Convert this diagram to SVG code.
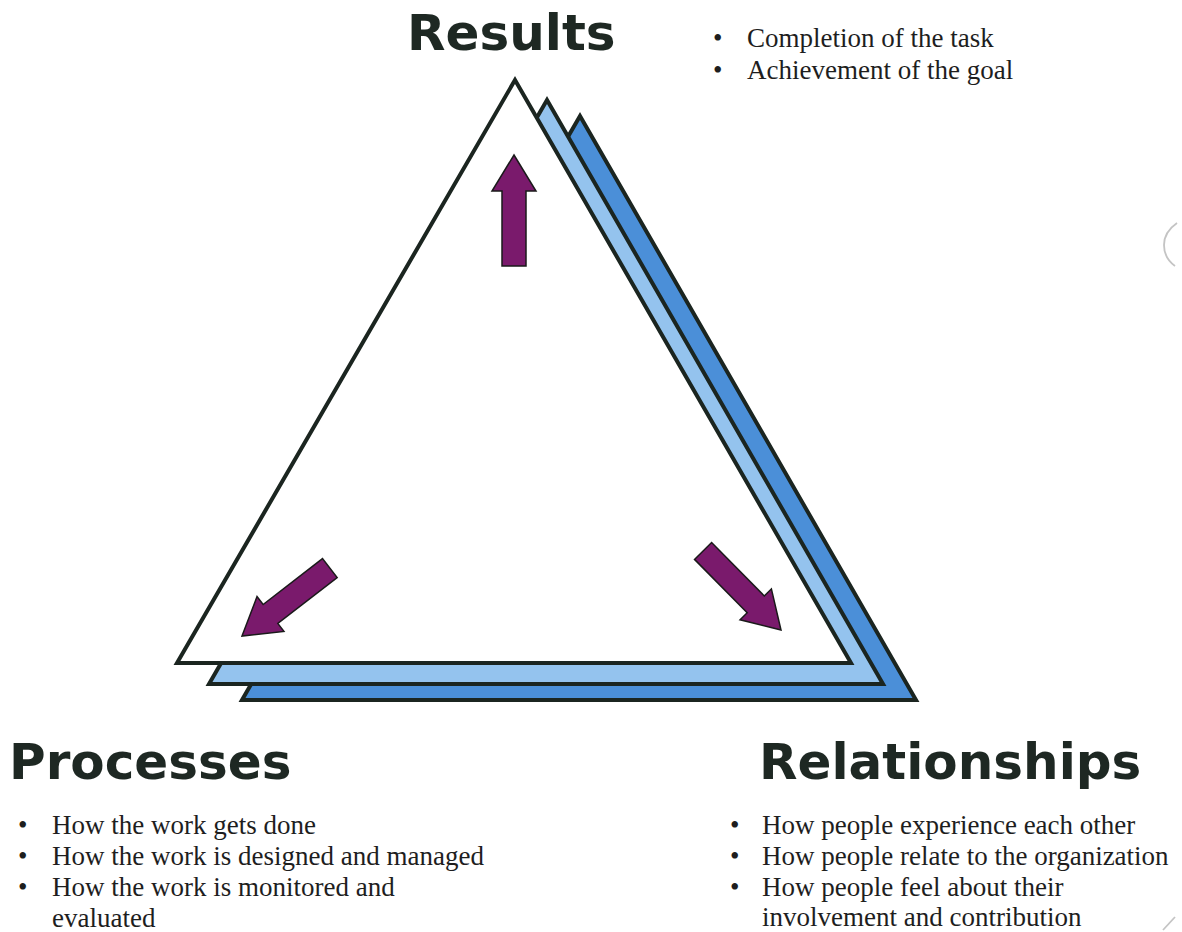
<svg xmlns="http://www.w3.org/2000/svg" width="1182" height="932" viewBox="0 0 1182 932">
<defs>
<style>
.tri{stroke:#1b2520;stroke-width:4;stroke-linejoin:miter}
.head{font-family:"DejaVu Sans",Verdana,sans-serif;font-weight:bold;font-size:50px;fill:#1e2823}
.bul{font-family:"Liberation Serif","Times New Roman",serif;font-size:27px;fill:#1e1e1e}
.arrow{fill:#7a1a6c;stroke:#1a1a1a;stroke-width:1.5;stroke-linejoin:miter}
</style>
<path id="arr" d="M0,0 L22,36 L12,36 L12,111 L-12,111 L-12,36 L-22,36 Z"/>
</defs>
<rect width="1182" height="932" fill="#ffffff"/>
<g id="triangles">
<polygon class="tri" points="580,116 916,700 242,700" fill="#4b8fd8"/>
<polygon class="tri" points="547,100 883,684 209,684" fill="#94c3ee"/>
<polygon class="tri" points="515,80 851,663 177,663" fill="#ffffff"/>
</g>
<g id="connectors">
<use href="#arr" class="arrow" transform="translate(514,155)"/>
<use href="#arr" class="arrow" transform="translate(242,636) rotate(-127.7)"/>
<use href="#arr" class="arrow" transform="translate(781,630) rotate(135.4)"/>
</g>
<g id="results">
<text class="head" x="407" y="50">Results</text>
<text class="bul" x="713" y="47">•</text>
<text class="bul" x="747" y="47">Completion of the task</text>
<text class="bul" x="713" y="79">•</text>
<text class="bul" x="747" y="79">Achievement of the goal</text>
</g>
<g id="processes">
<text class="head" x="9" y="779">Processes</text>
<text class="bul" x="18" y="834">•</text>
<text class="bul" x="52" y="834">How the work gets done</text>
<text class="bul" x="18" y="865">•</text>
<text class="bul" x="52" y="865">How the work is designed and managed</text>
<text class="bul" x="18" y="896">•</text>
<text class="bul" x="52" y="896">How the work is monitored and</text>
<text class="bul" x="52" y="927">evaluated</text>
</g>
<g id="relationships">
<text class="head" x="759" y="779">Relationships</text>
<text class="bul" x="730" y="834">•</text>
<text class="bul" x="762" y="834">How people experience each other</text>
<text class="bul" x="730" y="865">•</text>
<text class="bul" x="762" y="865">How people relate to the organization</text>
<text class="bul" x="730" y="896">•</text>
<text class="bul" x="762" y="896">How people feel about their</text>
<text class="bul" x="762" y="926">involvement and contribution</text>
</g>
<g id="marks" fill="none" stroke="#c4c4c4" stroke-width="1.8">
<path d="M1177,223 Q1164,232 1164,245 Q1164,258 1175,266"/>
<path d="M1163,930 L1175,917"/>
</g>
</svg>
